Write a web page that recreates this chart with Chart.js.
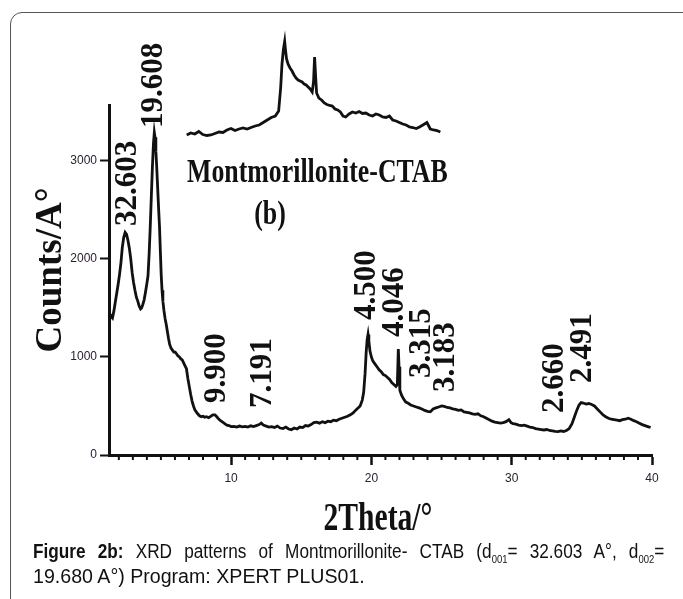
<!DOCTYPE html>
<html>
<head>
<meta charset="utf-8">
<title>XRD Montmorillonite-CTAB</title>
<script src="https://cdn.jsdelivr.net/npm/chart.js@4.4.1/dist/chart.umd.min.js"></script>
<style>
  html, body { margin: 0; padding: 0; background: #fff; }
  body { width: 683px; height: 599px; position: relative; overflow: hidden; }
  #frame { position: absolute; left: 10px; top: 12px; width: 700px; height: 620px;
           border: 1px solid #555; border-radius: 12px; }
  #main { position: absolute; left: 0; top: 0; }
  #inset { position: absolute; left: 180px; top: 30px; }
  .cap { position: absolute; left: 33px; transform-origin: 0 0;
         font-family: "Liberation Sans", Arial, sans-serif;
         font-size: 20px; line-height: 24px; color: #111; }
  #cap1 { top: 539px; width: 734px; transform: scaleX(0.86);
          text-align: justify; text-align-last: justify; }
  #cap2 { top: 564px; transform: scaleX(0.98); white-space: nowrap; }
  .cap sub { font-size: 11px; line-height: 0; vertical-align: -5px; }
</style>
</head>
<body>
<div id="frame"></div>
<canvas id="main" width="683" height="599"></canvas>
<canvas id="inset" width="270" height="115"></canvas>
<div class="cap" id="cap1"><b>Figure 2b:</b> XRD patterns of Montmorillonite- CTAB (d<sub>001</sub>= 32.603 A°, d<sub>002</sub>=</div>
<div class="cap" id="cap2">19.680 A°) Program: XPERT PLUS01.</div>
<script>
// main pattern, 2theta (deg) and counts
const twoTheta = [
  1.34, 1.45, 1.55, 1.65, 1.75, 1.85, 1.95, 2.05, 2.15, 2.25,
  2.35, 2.45, 2.55, 2.65, 2.75, 2.85, 2.95, 3.05, 3.15, 3.25,
  3.35, 3.45, 3.55, 3.62, 3.70, 3.80, 3.90, 4.00, 4.08, 4.16,
  4.24, 4.32, 4.40, 4.47, 4.53, 4.58, 4.64, 4.70, 4.77, 4.84,
  4.90, 4.96, 5.02, 5.08, 5.14, 5.22, 5.30, 5.38, 5.46, 5.54,
  5.62, 5.72, 5.82, 5.92, 6.02, 6.12, 6.22, 6.32, 6.42, 6.52,
  6.62, 6.72, 6.82, 6.92, 7.02, 7.12, 7.22, 7.32, 7.42, 7.52,
  7.62, 7.75, 7.88, 8.00, 8.12, 8.25, 8.40, 8.55, 8.70, 8.85,
  8.95, 9.10, 9.25, 9.40, 9.55, 9.70, 9.85, 10.0, 10.2, 10.4,
  10.6, 10.8, 11.0, 11.2, 11.4, 11.6, 11.8, 12.0, 12.15, 12.3,
  12.5, 12.7, 12.9, 13.1, 13.3, 13.5, 13.7, 13.9, 14.1, 14.3,
  14.5, 14.7, 14.9, 15.1, 15.3, 15.5, 15.7, 15.9, 16.1, 16.3,
  16.5, 16.7, 16.9, 17.1, 17.3, 17.5, 17.7, 17.9, 18.1, 18.3,
  18.5, 18.7, 18.9, 19.05, 19.2, 19.35, 19.45, 19.55, 19.63, 19.7,
  19.76, 19.82, 19.9, 20.0, 20.1, 20.25, 20.4, 20.55, 20.7, 20.85,
  21.0, 21.15, 21.3, 21.45, 21.6, 21.75, 21.85, 21.92, 21.97, 22.03,
  22.15, 22.3, 22.45, 22.6, 22.8, 23.0, 23.2, 23.4, 23.6, 23.8,
  24.0, 24.2, 24.4, 24.6, 24.8, 25.0, 25.2, 25.4, 25.6, 25.8,
  26.0, 26.2, 26.4, 26.6, 26.8, 27.0, 27.2, 27.4, 27.6, 27.8,
  28.0, 28.2, 28.4, 28.6, 28.8, 29.0, 29.2, 29.4, 29.6, 29.8,
  29.95, 30.1, 30.3, 30.5, 30.7, 30.9, 31.1, 31.3, 31.5, 31.7,
  31.9, 32.1, 32.3, 32.5, 32.7, 32.9, 33.1, 33.3, 33.5, 33.7,
  33.9, 34.1, 34.3, 34.5, 34.65, 34.8, 34.95, 35.1, 35.3, 35.5,
  35.7, 35.9, 36.1, 36.3, 36.5, 36.7, 36.9, 37.1, 37.3, 37.5,
  37.7, 37.9, 38.1, 38.3, 38.5, 38.7, 38.9, 39.1, 39.3, 39.5,
  39.7, 39.9
];
const counts = [
  1380, 1420, 1400, 1470, 1560, 1650, 1740, 1840, 1960, 2120,
  2220, 2270, 2250, 2190, 2110, 2000, 1860, 1760, 1680, 1610,
  1570, 1520, 1490, 1500, 1530, 1580, 1660, 1750, 1830, 2050,
  2330, 2650, 2960, 3180, 3290, 3240, 3100, 2940, 2720, 2500,
  2330, 2080, 1840, 1680, 1570, 1470, 1390, 1330, 1260, 1190,
  1130, 1090, 1070, 1050, 1050, 1030, 1010, 1000, 980, 970,
  940, 910, 880, 780, 700, 620, 550, 500, 460, 440,
  420, 400, 390, 395, 385, 390, 380, 395, 410, 410,
  395, 370, 350, 335, 320, 305, 300, 290, 292, 285,
  295, 288, 292, 285, 298, 290, 300, 310, 325, 305,
  295, 285, 290, 280, 295, 275, 270, 285, 265, 258,
  275, 265, 285, 280, 300, 295, 310, 330, 335, 325,
  340, 330, 345, 340, 355, 350, 365, 375, 385, 395,
  410, 430, 460, 480, 500, 560, 640, 830, 1050, 1180,
  1230, 1160, 1060, 1000, 960, 930, 900, 870, 850, 820,
  810, 790, 770, 740, 720, 700, 720, 1080, 900, 660,
  610, 570, 540, 530, 510, 500, 490, 480, 470, 455,
  445, 440, 470, 480, 490, 500, 495, 485, 480, 470,
  465, 455, 460, 440, 435, 430, 420, 415, 420, 400,
  390, 375, 360, 345, 335, 330, 325, 330, 340, 360,
  330, 320, 315, 305, 300, 305, 295, 285, 280, 270,
  265, 260, 255, 260, 250, 245, 240, 238, 245, 240,
  250, 270, 320, 400, 460, 510, 535, 530, 520, 525,
  515, 500, 470, 440, 410, 390, 375, 365, 360, 355,
  350, 360, 365, 375, 365, 350, 340, 325, 310, 300,
  290, 280
];

// inset (enlarged 19-22 deg region), arbitrary intensity
const insetTheta = [
  12.4, 12.7, 13.0, 13.3, 13.6, 13.9, 14.2, 14.5, 14.8, 15.1,
  15.4, 15.7, 16.0, 16.3, 16.6, 16.9, 17.2, 17.5, 17.8, 18.1,
  18.4, 18.7, 19.0, 19.25, 19.4, 19.5, 19.6, 19.7, 19.76, 19.84,
  19.95, 20.1, 20.25, 20.4, 20.55, 20.7, 20.85, 21.0, 21.15, 21.3,
  21.45, 21.6, 21.75, 21.85, 21.93, 22.0, 22.08, 22.25, 22.45, 22.65,
  22.85, 23.05, 23.25, 23.45, 23.65, 23.85, 24.05, 24.25, 24.5, 24.75,
  25.0, 25.25, 25.5, 25.75, 26.0, 26.25, 26.5, 26.75, 27.0, 27.25,
  27.5, 27.75, 28.0, 28.25, 28.5, 28.75, 29.0, 29.25, 29.5, 29.75,
  30.0, 30.3, 30.55, 30.8, 31.05, 31.3
];
const insetCounts = [
  50, 70, 60, 85, 55, 45, 50, 65, 80, 75,
  100, 115, 95, 110, 120, 110, 125, 140, 150, 175,
  200, 225, 240, 290, 520, 760, 900, 985, 900, 810,
  760, 720, 690, 650, 620, 600, 590, 580, 560, 550,
  530, 510, 480, 580, 830, 650, 470, 420, 400, 370,
  355, 345, 340, 310, 300, 280, 240, 230, 260, 280,
  270, 285, 265, 270, 250, 240, 260, 250, 230, 225,
  240, 200, 190, 175, 160, 150, 130, 125, 115, 130,
  150, 175, 110, 100, 95, 80
];

// d-spacing labels and where they sit (2theta, counts at text start)
const peakLabels = ['32.603', '19.608', '9.900', '7.191', '4.500', '4.046', '3.315', '3.183', '2.660', '2.491'];
const labelTheta = [2.67, 4.52, 9.0, 12.28, 19.67, 21.66, 23.58, 25.29, 33.11, 35.11];
const labelCounts = [2336, 3335, 530, 479, 1377, 1204, 785, 643, 428, 734];

const yTicks = [0, 1000, 2000, 3000];
const xMajor = [10, 20, 30, 40];

const ink = '#111';
const tickFont = {family: '"Liberation Sans", Arial, sans-serif', size: 12};

const decorations = {
  id: 'decorations',
  afterDraw(chart) {
    const {ctx} = chart;
    const x = chart.scales.x, y = chart.scales.y;
    ctx.save();
    ctx.fillStyle = ink;
    ctx.strokeStyle = ink;

    // short minor ticks every degree
    ctx.lineWidth = 2;
    for (let v = Math.ceil(x.min); v < x.max; v++) {
      if (xMajor.includes(v)) continue;
      const px = x.getPixelForValue(v);
      ctx.beginPath();
      ctx.moveTo(px, y.bottom);
      ctx.lineTo(px, y.bottom + 5);
      ctx.stroke();
    }

    // rotated d-spacing labels
    ctx.font = 'bold 31px "Liberation Serif"';
    ctx.textAlign = 'left';
    ctx.textBaseline = 'middle';
    peakLabels.forEach((t, i) => {
      ctx.save();
      ctx.translate(x.getPixelForValue(labelTheta[i]), y.getPixelForValue(labelCounts[i]));
      ctx.rotate(-Math.PI / 2);
      ctx.fillText(t, 0, 0);
      ctx.restore();
    });

    // sample name
    ctx.textBaseline = 'alphabetic';
    ctx.font = 'bold 34px "Liberation Serif"';
    ctx.save();
    ctx.translate(187, 182);
    ctx.scale(0.76, 1);
    ctx.fillText('Montmorillonite-CTAB', 0, 0);
    ctx.restore();
    ctx.save();
    ctx.translate(270, 224);
    ctx.scale(0.76, 1);
    ctx.textAlign = 'center';
    ctx.fillText('(b)', 0, 0);
    ctx.restore();

    // axis titles
    ctx.save();
    ctx.font = 'bold 40px "Liberation Serif"';
    ctx.textAlign = 'center';
    ctx.translate(378, 530);
    ctx.scale(0.74, 1);
    ctx.fillText('2Theta/°', 0, 0);
    ctx.restore();

    ctx.save();
    ctx.font = 'bold 37px "Liberation Serif"';
    ctx.textAlign = 'center';
    ctx.textBaseline = 'middle';
    ctx.translate(51, 270);
    ctx.rotate(-Math.PI / 2);
    ctx.fillText('Counts/A°', 0, 0);
    ctx.restore();

    ctx.restore();
  }
};

new Chart(document.getElementById('main'), {
  type: 'line',
  data: {
    datasets: [{
      data: twoTheta.map((t, i) => ({x: t, y: counts[i]})),
      borderColor: ink,
      borderWidth: 2.8,
      pointRadius: 0,
      tension: 0
    }]
  },
  options: {
    responsive: false,
    devicePixelRatio: 1,
    animation: false,
    events: [],
    layout: {padding: {top: 105, right: 31, bottom: 104, left: 0}},
    plugins: {legend: {display: false}, tooltip: {enabled: false}},
    scales: {
      x: {
        type: 'linear',
        min: 1.3,
        max: 40,
        afterFit: s => { s.height = 40; },
        afterBuildTicks: s => { s.ticks = xMajor.map(v => ({value: v})); },
        border: {color: ink, width: 3},
        grid: {drawOnChartArea: false, tickLength: 10, tickWidth: 2.5, color: ink},
        ticks: {
          maxRotation: 0,
          padding: 6,
          color: '#2b2030',
          font: tickFont,
          callback: v => String(v)
        }
      },
      y: {
        min: 0,
        max: 3570,
        afterFit: s => { s.width = 109; },
        border: {color: ink, width: 3},
        grid: {drawOnChartArea: false, tickLength: 9, tickWidth: 2, color: ink},
        afterBuildTicks: s => { s.ticks = yTicks.map(v => ({value: v})); },
        ticks: {
          padding: 3,
          color: '#2b2030',
          font: tickFont,
          callback: v => String(v)
        }
      }
    }
  },
  plugins: [decorations]
});

new Chart(document.getElementById('inset'), {
  type: 'line',
  data: {
    datasets: [{
      data: insetTheta.map((t, i) => ({x: t, y: insetCounts[i]})),
      borderColor: ink,
      borderWidth: 2.8,
      pointRadius: 0,
      tension: 0
    }]
  },
  options: {
    responsive: false,
    devicePixelRatio: 1,
    animation: false,
    events: [],
    layout: {padding: 0},
    plugins: {legend: {display: false}, tooltip: {enabled: false}},
    scales: {
      x: {type: 'linear', display: false, min: 11.9, max: 32.02},
      y: {display: false, min: -50, max: 1100}
    }
  }
});
</script>
</body>
</html>
